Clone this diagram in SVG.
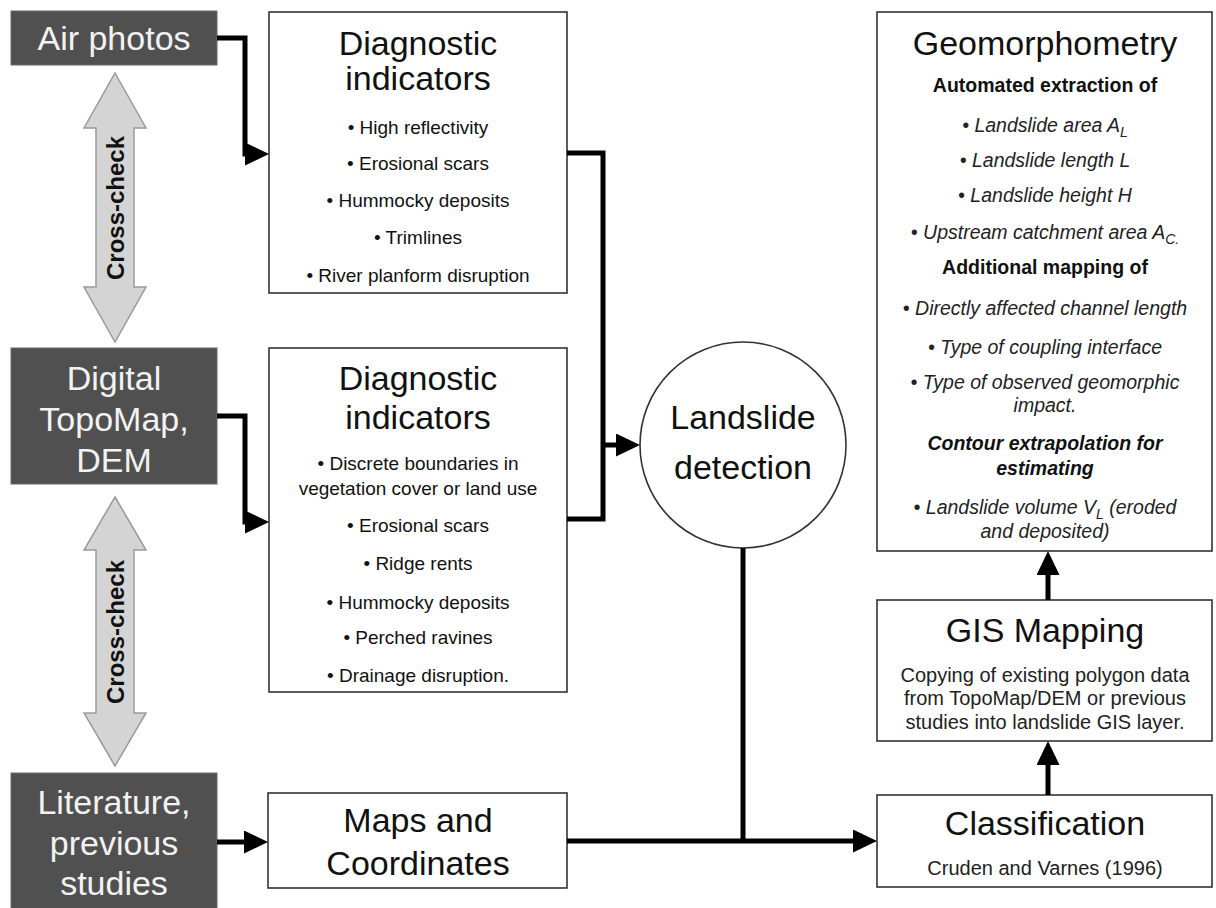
<svg xmlns="http://www.w3.org/2000/svg" width="1216" height="908" viewBox="0 0 1216 908">
<defs>
<style>
text{font-family:"Liberation Sans",Arial,sans-serif;fill:#111;text-anchor:middle}
.dark rect{fill:#505050;stroke:#6a6a6a;stroke-width:1}
.dark text{fill:#f2f2f2;font-size:34px}
.box{fill:#fff;stroke:#333;stroke-width:1.6}
.t{font-size:34px}
.b{font-size:19px}
.s{font-size:19.5px;font-style:italic;fill:#222}
.h{font-size:19.5px;font-weight:bold}
.hi{font-size:19.5px;font-weight:bold;font-style:italic}
.sm{font-size:20px;fill:#222}
.conn{fill:none;stroke:#000;stroke-width:5}
.xc polygon{fill:#d4d4d4;stroke:#9a9a9a;stroke-width:1.5}
.xc text{font-size:24px;font-weight:bold;fill:#111}
</style>
<marker id="ah" markerUnits="userSpaceOnUse" markerWidth="26" markerHeight="24" refX="16" refY="11.5" orient="auto">
<path d="M0,0 L24,11.5 L0,23 z" fill="#000"/>
</marker>
</defs>
<rect width="1216" height="908" fill="#fff"/>

<g id="air-photos" class="dark">
<rect x="11" y="11" width="206" height="54"/>
<text x="114" y="50">Air photos</text>
</g>
<g id="digital-topomap" class="dark">
<rect x="11" y="348" width="206" height="136"/>
<text x="114" y="390">Digital</text>
<text x="114" y="431">TopoMap,</text>
<text x="114" y="472">DEM</text>
</g>
<g id="literature" class="dark">
<rect x="11" y="773" width="206" height="140"/>
<text x="114" y="814">Literature,</text>
<text x="114" y="855">previous</text>
<text x="114" y="895">studies</text>
</g>

<g id="crosscheck-1" class="xc">
<polygon points="115,73 146,128 134,128 134,287 146,287 115,342 84,287 96,287 96,128 84,128"/>
<text transform="translate(115,208) rotate(-90)" dominant-baseline="central">Cross-check</text>
</g>
<g id="crosscheck-2" class="xc">
<polygon points="115,497 146,550 134,550 134,713 146,713 115,766 84,713 96,713 96,550 84,550"/>
<text transform="translate(115,632) rotate(-90)" dominant-baseline="central">Cross-check</text>
</g>

<g id="diagnostic-1">
<rect class="box" x="269" y="12" width="298" height="281"/>
<text class="t" x="418" y="55">Diagnostic</text>
<text class="t" x="418" y="90">indicators</text>
<text class="b" x="418" y="134">• High reflectivity</text>
<text class="b" x="418" y="170">• Erosional scars</text>
<text class="b" x="418" y="207">• Hummocky deposits</text>
<text class="b" x="418" y="244">• Trimlines</text>
<text class="b" x="418" y="282">• River planform disruption</text>
</g>

<g id="diagnostic-2">
<rect class="box" x="269" y="348" width="298" height="344"/>
<text class="t" x="418" y="390">Diagnostic</text>
<text class="t" x="418" y="429">indicators</text>
<text class="b" x="418" y="470">• Discrete boundaries in</text>
<text class="b" x="418" y="495">vegetation cover or land use</text>
<text class="b" x="418" y="532">• Erosional scars</text>
<text class="b" x="418" y="570">• Ridge rents</text>
<text class="b" x="418" y="609">• Hummocky deposits</text>
<text class="b" x="418" y="644">• Perched ravines</text>
<text class="b" x="418" y="682">• Drainage disruption.</text>
</g>

<g id="maps-coordinates">
<rect class="box" x="268" y="793" width="299" height="95"/>
<text class="t" x="418" y="832">Maps and</text>
<text class="t" x="418" y="875">Coordinates</text>
</g>

<g id="landslide-detection">
<circle cx="743" cy="445" r="103" fill="#fff" stroke="#333" stroke-width="1.6"/>
<text class="t" x="743" y="429">Landslide</text>
<text class="t" x="743" y="479">detection</text>
</g>

<g id="geomorphometry">
<rect class="box" x="877" y="12" width="335" height="539"/>
<text class="t" x="1045" y="55">Geomorphometry</text>
<text class="h" x="1045" y="92">Automated extraction of</text>
<text class="s" x="1045" y="132">• Landslide area A<tspan font-size="14" dy="5">L</tspan></text>
<text class="s" x="1045" y="167">• Landslide length L</text>
<text class="s" x="1045" y="202">• Landslide height H</text>
<text class="s" x="1045" y="239">• Upstream catchment area A<tspan font-size="14" dy="5">C.</tspan></text>
<text class="h" x="1045" y="274">Additional mapping of</text>
<text class="s" x="1045" y="315">• Directly affected channel length</text>
<text class="s" x="1045" y="354">• Type of coupling interface</text>
<text class="s" x="1045" y="389">• Type of observed geomorphic</text>
<text class="s" x="1045" y="412">impact.</text>
<text class="hi" x="1045" y="450">Contour extrapolation for</text>
<text class="hi" x="1045" y="475">estimating</text>
<text class="s" x="1045" y="514">• Landslide volume V<tspan font-size="14" dy="5">L</tspan><tspan dy="-5"> (eroded</tspan></text>
<text class="s" x="1045" y="538">and deposited)</text>
</g>

<g id="gis-mapping">
<rect class="box" x="877" y="600" width="335" height="141"/>
<text class="t" x="1045" y="642">GIS Mapping</text>
<text class="sm" x="1045" y="682">Copying of existing polygon data</text>
<text class="sm" x="1045" y="705">from TopoMap/DEM or previous</text>
<text class="sm" x="1045" y="729">studies into landslide GIS layer.</text>
</g>

<g id="classification">
<rect class="box" x="877" y="795" width="335" height="92"/>
<text class="t" x="1045" y="835">Classification</text>
<text class="sm" x="1045" y="875">Cruden and Varnes (1996)</text>
</g>

<g id="connectors">
<path class="conn" d="M217,38 H245 V154 H261" marker-end="url(#ah)"/>
<path class="conn" d="M217,416 H245 V522 H261" marker-end="url(#ah)"/>
<path class="conn" d="M567,153 H603 V519 H567"/>
<path class="conn" d="M603,445 H632" marker-end="url(#ah)"/>
<path class="conn" d="M217,842 H260" marker-end="url(#ah)"/>
<path class="conn" d="M743,548 V841"/>
<path class="conn" d="M567,841 H869" marker-end="url(#ah)"/>
<path class="conn" d="M1048,795 V749" marker-end="url(#ah)"/>
<path class="conn" d="M1048,600 V559" marker-end="url(#ah)"/>
</g>
</svg>
